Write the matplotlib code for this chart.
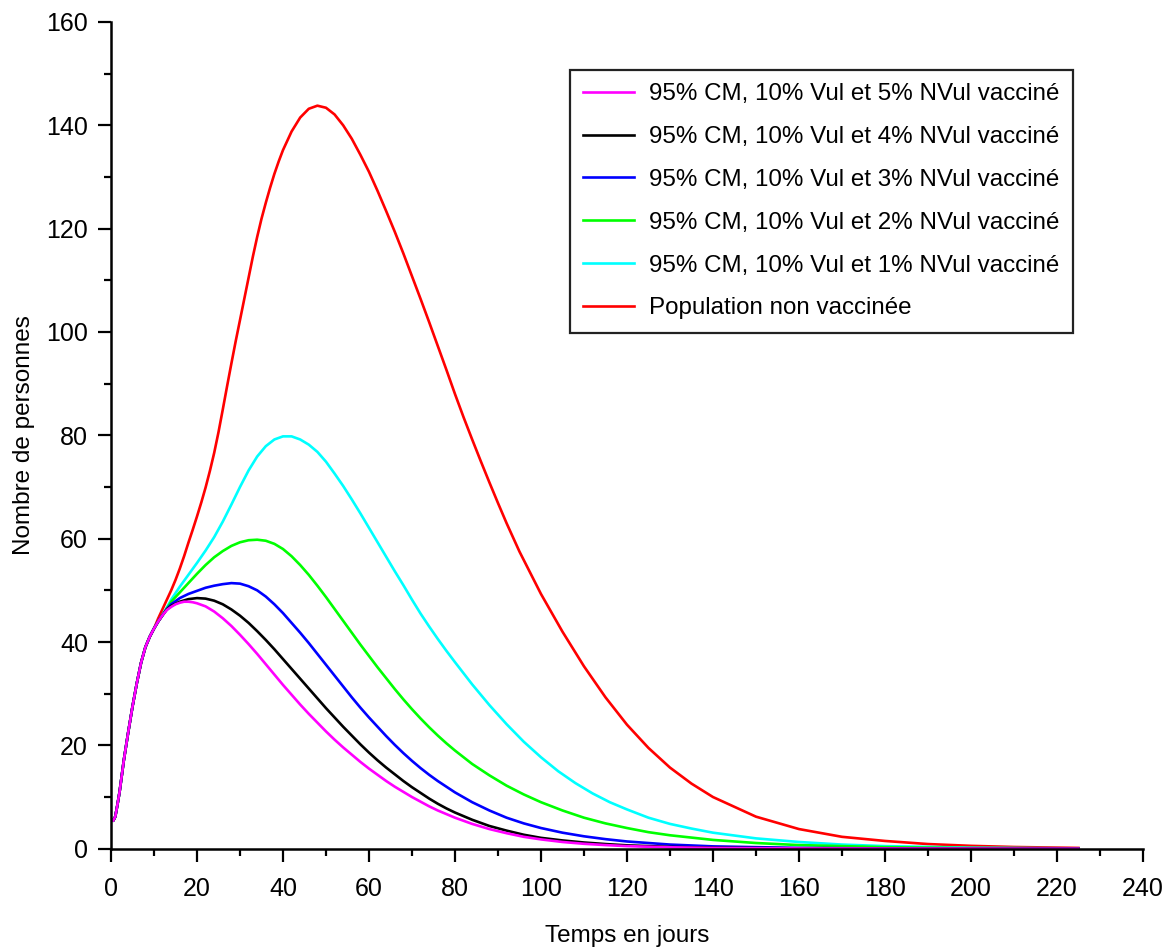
import matplotlib
matplotlib.use("Agg")
import matplotlib.pyplot as plt
from matplotlib.ticker import MultipleLocator

plt.rcParams['font.family'] = ['Liberation Sans', 'DejaVu Sans']

# common start of all curves (days, persons)
start_t = [0, 0.5, 1, 1.5, 2, 3, 4, 5, 6, 7, 8, 9, 10]
start_y = [5.6, 5.4, 6.2, 8.5, 11.0, 17.2, 22.5, 27.5, 32.0, 36.0, 39.0, 41.0, 42.6]

t_5pct = [11, 12, 13, 14, 15, 16, 17, 18, 19, 20, 22, 24, 26, 28, 30, 32, 34, 36, 38, 40,
          42, 44, 46, 48, 50, 52, 54, 56, 58, 60, 62, 64, 66, 68, 70, 72, 74, 76, 78, 80,
          84, 88, 92, 96, 100, 105, 110, 115, 120, 130, 140, 160, 180, 225]
y_5pct = [44.0, 45.2, 46.2, 46.8, 47.3, 47.6, 47.8, 47.8, 47.7, 47.5, 46.9, 45.9, 44.6, 43.1,
          41.4, 39.6, 37.7, 35.7, 33.7, 31.7, 29.8, 27.9, 26.1, 24.4, 22.7, 21.1, 19.6, 18.2,
          16.8, 15.5, 14.3, 13.1, 12.0, 11.0, 10.0, 9.1, 8.2, 7.4, 6.7, 6.0, 4.8, 3.8, 3.0,
          2.3, 1.8, 1.3, 0.95, 0.7, 0.5, 0.27, 0.15, 0.05, 0.02, 0.0]

t_4pct = [11, 12, 13, 14, 16, 18, 20, 22, 24, 26, 28, 30, 32, 34, 36, 38, 40, 42, 44, 46,
          48, 50, 52, 54, 56, 58, 60, 62, 64, 66, 68, 70, 72, 74, 76, 78, 80, 84, 88, 92,
          96, 100, 105, 110, 115, 120, 130, 140, 160, 180, 225]
y_4pct = [44.0, 45.2, 46.3, 47.0, 47.8, 48.3, 48.5, 48.4, 48.0, 47.3, 46.3, 45.1, 43.7, 42.1,
          40.4, 38.6, 36.7, 34.8, 32.9, 31.0, 29.1, 27.2, 25.4, 23.6, 21.9, 20.2, 18.6, 17.1,
          15.7, 14.4, 13.1, 11.9, 10.8, 9.7, 8.7, 7.8, 7.0, 5.6, 4.4, 3.5, 2.7, 2.1, 1.6,
          1.2, 0.9, 0.65, 0.35, 0.2, 0.07, 0.02, 0.0]

t_3pct = [11, 12, 13, 14, 16, 18, 20, 22, 24, 26, 28, 30, 32, 34, 36, 38, 40, 42, 44, 46,
          48, 50, 52, 54, 56, 58, 60, 62, 64, 66, 68, 70, 72, 74, 76, 78, 80, 84, 88, 92,
          96, 100, 105, 110, 115, 120, 130, 140, 160, 180, 200, 225]
y_3pct = [44.0, 45.2, 46.4, 47.3, 48.5, 49.3, 49.9, 50.5, 50.9, 51.2, 51.4, 51.3, 50.8, 50.0,
          48.8, 47.3, 45.6, 43.7, 41.8, 39.8, 37.7, 35.6, 33.5, 31.4, 29.3, 27.3, 25.4, 23.6,
          21.8, 20.1, 18.5, 17.0, 15.6, 14.3, 13.1, 12.0, 10.9, 9.0, 7.4, 6.0, 4.9, 4.0, 3.1,
          2.4, 1.85, 1.4, 0.8, 0.45, 0.15, 0.05, 0.02, 0.0]

t_2pct = [11, 12, 13, 14, 16, 18, 20, 22, 24, 26, 28, 30, 32, 34, 36, 38, 40, 42, 44, 46,
          48, 50, 52, 54, 56, 58, 60, 62, 64, 66, 68, 70, 72, 74, 76, 78, 80, 84, 88, 92,
          96, 100, 105, 110, 115, 120, 125, 130, 140, 150, 160, 180, 200, 225]
y_2pct = [44.0, 45.2, 46.5, 47.8, 49.6, 51.4, 53.2, 54.9, 56.4, 57.6, 58.6, 59.3, 59.7, 59.8,
          59.6, 59.0, 58.0, 56.6, 54.9, 53.0, 50.9, 48.7, 46.4, 44.1, 41.8, 39.5, 37.3, 35.1,
          33.0, 30.9, 28.9, 27.0, 25.2, 23.5, 21.9, 20.4, 19.0, 16.4, 14.2, 12.2, 10.5, 9.0,
          7.4, 6.0, 4.9, 4.0, 3.2, 2.6, 1.7, 1.1, 0.7, 0.3, 0.12, 0.04]

t_1pct = [11, 12, 13, 14, 16, 18, 20, 22, 24, 26, 28, 30, 32, 34, 36, 38, 40, 42, 44, 46,
          48, 50, 52, 54, 56, 58, 60, 62, 64, 66, 68, 70, 72, 74, 76, 78, 80, 84, 88, 92,
          96, 100, 104, 108, 112, 116, 120, 125, 130, 135, 140, 150, 160, 170, 180, 200, 225]
y_1pct = [44.0, 45.3, 46.7, 48.2, 50.7, 53.0, 55.3, 57.7, 60.3, 63.3, 66.6, 70.0, 73.2, 75.9,
          77.9, 79.2, 79.8, 79.8, 79.2, 78.2, 76.8, 74.9, 72.6, 70.2, 67.6, 64.9, 62.1, 59.3,
          56.5, 53.7, 51.0, 48.2, 45.5, 43.0, 40.6, 38.3, 36.1, 31.8, 27.8, 24.1, 20.7, 17.7,
          15.0, 12.7, 10.7, 9.0, 7.6, 6.0, 4.8, 3.9, 3.1, 2.0, 1.3, 0.8, 0.5, 0.2, 0.06]

t_none = [11, 12, 13, 14, 15, 16, 17, 18, 19, 20, 21, 22, 23, 24, 25, 26, 27, 28, 29, 30,
          31, 32, 33, 34, 35, 36, 37, 38, 39, 40, 42, 44, 46, 48, 50, 52, 54, 56, 58, 60,
          62, 64, 66, 68, 70, 72, 74, 76, 78, 80, 82, 84, 86, 88, 90, 92, 95, 100, 105, 110,
          115, 120, 125, 130, 135, 140, 150, 160, 170, 180, 190, 200, 210, 225]
y_none = [44.6, 46.4, 48.2, 50.0, 52.0, 54.2, 56.6, 59.2, 61.7, 64.3, 67.0, 69.9, 73.1, 76.6,
          80.6, 85.0, 89.5, 93.9, 98.2, 102.3, 106.4, 110.5, 114.6, 118.4, 121.9, 125.0, 127.9,
          130.6, 133.0, 135.2, 138.8, 141.5, 143.2, 143.8, 143.4, 142.1, 140.0, 137.4, 134.3,
          131.0, 127.3, 123.4, 119.4, 115.2, 110.8, 106.4, 101.9, 97.3, 92.7, 88.0, 83.5, 79.2,
          75.0, 70.9, 66.9, 63.0, 57.5, 49.3, 42.0, 35.3, 29.3, 24.0, 19.5, 15.7, 12.6, 10.0,
          6.2, 3.8, 2.3, 1.5, 0.9, 0.55, 0.33, 0.15]

labels = ['95% CM, 10% Vul et 5% NVul vacciné',
          '95% CM, 10% Vul et 4% NVul vacciné',
          '95% CM, 10% Vul et 3% NVul vacciné',
          '95% CM, 10% Vul et 2% NVul vacciné',
          '95% CM, 10% Vul et 1% NVul vacciné',
          'Population non vaccinée']
colors = ['#ff00ff', '#000000', '#0000ff', '#00ff00', '#00ffff', '#ff0000']
series_t = [t_5pct, t_4pct, t_3pct, t_2pct, t_1pct, t_none]
series_y = [y_5pct, y_4pct, y_3pct, y_2pct, y_1pct, y_none]

fig = plt.figure(figsize=(11.67, 9.47), dpi=100)
ax = fig.add_axes([0.0951, 0.1038, 0.8843, 0.873])

handles = [None] * len(labels)
# draw red first so that magenta ends up on top, like the original
for i in reversed(range(len(labels))):
    tt = start_t + series_t[i]
    yy = start_y + series_y[i]
    line, = ax.plot(tt, yy, color=colors[i], linewidth=1.9, label=labels[i],
                    solid_joinstyle='round')
    handles[i] = line

ax.set_xlim(0, 240)
ax.set_ylim(0, 160)
ax.xaxis.set_major_locator(MultipleLocator(20))
ax.xaxis.set_minor_locator(MultipleLocator(10))
ax.yaxis.set_major_locator(MultipleLocator(20))
ax.yaxis.set_minor_locator(MultipleLocator(10))

for side in ['top', 'right']:
    ax.spines[side].set_visible(False)
for side in ['left', 'bottom']:
    ax.spines[side].set_linewidth(1.8)

ax.tick_params(which='major', direction='out', length=9.5, width=1.6,
               labelsize=18, pad=7)
ax.tick_params(which='minor', direction='out', length=5, width=1.6)
ax.tick_params(axis='x', which='major', pad=11)

ax.set_xlabel('Temps en jours', fontsize=17.5, labelpad=17)
ax.set_ylabel('Nombre de personnes', fontsize=17.5, labelpad=8)

leg = ax.legend(handles=handles, loc='upper left',
                bbox_to_anchor=(0.4884, 0.926), bbox_transform=fig.transFigure,
                borderaxespad=0, fontsize=17.4, handlelength=2.1, handletextpad=0.62,
                labelspacing=0.86, borderpad=0.55, fancybox=False,
                framealpha=1, edgecolor='#222222')
leg.get_frame().set_linewidth(1.6)

fig.savefig('out.png', dpi=100)
